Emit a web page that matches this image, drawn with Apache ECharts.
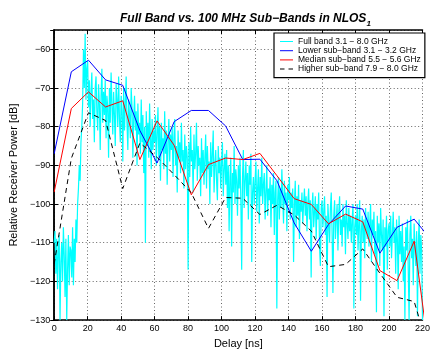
<!DOCTYPE html>
<html><head><meta charset="utf-8">
<script src="https://cdn.jsdelivr.net/npm/echarts@6/dist/echarts.min.js"></script>
<style>html,body{margin:0;padding:0;background:#fff}#c{width:433px;height:354px}</style>
</head><body><div id="c"></div><script>
// ---- data ----
const fullStep = 0.5; // ns between full-band samples
const fullBand = [
-110,-107,-118,-109,-122,-112,-108,-130,-115,-110,-120,-106,-113,-124,-109,-130,-117,-108,-121,-111,
-112,-119,-106,-121,-109,-115,-104,-110,-100,-96,-90,-94,-84,-80,-74,-60,-70,-56,-73,-65,
-63,-75,-68,-80,-71,-66,-78,-73,-84,-70,-67,-76,-81,-69,-74,-86,-72,-65,-79,-71,
-77,-68,-83,-72,-75,-88,-70,-79,-66,-74,-82,-71,-77,-85,-69,-73,-80,-67,-78,-84,
-72,-76,-89,-70,-81,-74,-67,-79,-86,-73,-77,-83,-70,-75,-88,-78,-72,-81,-76,-90,
-74,-82,-79,-87,-73,-84,-77,-92,-80,-110,-76,-85,-79,-88,-74,-83,-91,-78,-86,-81,
-84,-77,-90,-82,-75,-88,-80,-94,-79,-86,-83,-91,-76,-87,-81,-95,-84,-78,-89,-82,
-86,-80,-93,-83,-78,-90,-85,-97,-81,-88,-84,-92,-79,-89,-86,-96,-82,-91,-85,-88,
-117,-84,-93,-80,-89,-86,-97,-82,-91,-87,-79,-94,-85,-90,-88,-98,-83,-92,-86,-95,
-88,-82,-96,-85,-91,-89,-100,-84,-93,-87,-81,-97,-90,-86,-94,-99,-85,-92,-88,-96,
-89,-84,-98,-91,-87,-95,-86,-101,-90,-107,-93,-88,-111,-92,-97,-85,-100,-91,-94,-103,
-90,-96,-88,-99,-117,-93,-86,-101,-94,-89,-98,-92,-104,-90,-95,-87,-115,-97,-93,-100,
-94,-89,-102,-96,-91,-105,-93,-98,-88,-100,-95,-92,-104,-97,-90,-103,-96,-99,-93,-106,
-95,-100,-92,-108,-97,-94,-127,-99,-93,-104,-96,-101,-91,-98,-105,-94,-100,-97,-107,-95,
-99,-93,-104,-97,-101,-96,-115,-100,-94,-106,-98,-103,-95,-109,-99,-102,-97,-105,-100,-96,
-103,-98,-107,-100,-96,-104,-99,-119,-101,-97,-106,-102,-98,-109,-100,-104,-97,-111,-116,-101,
-99,-106,-102,-98,-108,-103,-124,-100,-105,-110,-101,-97,-107,-123,-103,-99,-109,-104,-100,-112,
-102,-98,-108,-104,-111,-100,-106,-103,-113,-99,-105,-109,-101,-107,-103,-110,-104,-100,-127,-106,
-103,-108,-100,-112,-105,-99,-125,-107,-103,-110,-104,-114,-101,-106,-109,-102,-111,-105,-100,-115,
-104,-108,-102,-113,-107,-128,-103,-110,-105,-116,-101,-108,-112,-104,-129,-106,-111,-103,-117,-107,
-105,-111,-103,-114,-108,-102,-110,-106,-118,-104,-109,-122,-103,-113,-107,-115,-105,-120,-111,-130,
-106,-112,-104,-117,-130,-108,-103,-114,-109,-121,-105,-111,-116,-107,-129,-110,-104,-118,-108,-112,-130
];
const subDelays = [0,10.24,20.48,30.72,40.96,51.2,61.44,71.68,81.92,92.16,102.4,112.64,122.88,133.12,143.36,153.6,163.84,174.08,184.32,194.56,204.8,215.04,225.28];
const lowerSub  = [-87,-65.8,-62.8,-67.9,-69.3,-81,-89.4,-78.7,-75.8,-75.8,-79.8,-88.5,-88.4,-94.0,-104.9,-112.2,-105.3,-100.5,-101.3,-112.7,-106.0,-103.9,-109.3];
const medianSub = [-96.9,-75.3,-71.0,-74.9,-73.3,-88.5,-78.5,-84.8,-97.6,-89.8,-88.1,-88.5,-86.9,-92.7,-98.6,-100.1,-105.1,-102.6,-104.6,-117.2,-119.8,-109.6,-143];
const higherSub = [-115.5,-88.2,-76.4,-78.4,-96,-84.2,-87.9,-92.4,-97.1,-106.3,-98.3,-98.5,-102.7,-100.3,-102.8,-107,-116.2,-115.6,-111.6,-117.9,-124.1,-125.2,-140];
const seriesNames = ['Full band 3.1 \u2212 8.0 GHz','Lower sub\u2212band 3.1 \u2212 3.2 GHz','Median sub\u2212band 5.5 \u2212 5.6 GHz','Higher sub\u2212band 7.9 \u2212 8.0 GHz'];
const xMin = 0, xMax = 220, xStep = 20;
const yMin = -130, yMax = -55, yStep = 10;

// ---- chart ----
const FONT = '"Liberation Sans", Arial, Helvetica, sans-serif';
const chart = echarts.init(document.getElementById('c'), null, {renderer:'canvas'});
const minus = v => String(v).replace('-', '\u2212');
const boxLine = {lineStyle:{color:'#000', width:1.5}};
const tick = {inside:true, length:4, lineStyle:{color:'#000', width:1}};
const grid = {show:true, lineStyle:{color:'#666', type:[1,2.5], width:1}};
const pair = (xs, ys) => ys.map((v,i)=>[xs[i], v]);
// legend icons: thin horizontal line (solid / dashed); invisible moves keep the 13x8 box
const solidIcon  = 'path://M0,0 M0,3.5 L13,3.5 L13,4.5 L0,4.5 Z M13,8';
const dashedIcon = 'path://M0,0 M0,3.5 L4.5,3.5 L4.5,4.5 L0,4.5 Z M8.5,3.5 L13,3.5 L13,4.5 L8.5,4.5 Z M13,8';

chart.setOption({
  animation:false,
  backgroundColor:'#fff',
  textStyle:{fontFamily:FONT},
  title:{
    text:'Full Band vs. 100 MHz Sub\u2212Bands in NLOS{s|1}',
    left:115, top:5,
    textStyle:{fontFamily:FONT, fontSize:12, fontWeight:'bold', fontStyle:'italic', color:'#000',
      rich:{s:{fontFamily:FONT, fontSize:8, fontWeight:'bold', fontStyle:'italic', color:'#000', padding:[10,0,0,0]}}}
  },
  grid:{left:51, right:4, top:30, bottom:25.7, containLabel:false},
  legend:{
    orient:'vertical', left:274, top:33,
    data:[
      {name:seriesNames[0], icon:solidIcon},
      {name:seriesNames[1], icon:solidIcon},
      {name:seriesNames[2], icon:solidIcon},
      {name:seriesNames[3], icon:dashedIcon}
    ],
    backgroundColor:'#fff', borderColor:'#000', borderWidth:1.2,
    padding:[4,4,4,6], itemGap:0.2, itemWidth:13, itemHeight:8,
    textStyle:{fontFamily:FONT, fontSize:8.5, color:'#000', lineHeight:8}
  },
  xAxis:[
    {type:'value', min:xMin, max:xMax, interval:xStep, position:'bottom',
     name:'Delay [ns]', nameLocation:'middle', nameGap:15,
     nameTextStyle:{fontFamily:FONT, fontSize:11, color:'#000'},
     axisLine:boxLine, axisTick:tick, splitLine:grid,
     axisLabel:{color:'#000', fontSize:9, margin:4, fontFamily:FONT}},
    {type:'value', min:xMin, max:xMax, interval:xStep, position:'top',
     axisLine:boxLine, axisTick:tick, splitLine:{show:false}, axisLabel:{show:false}}
  ],
  yAxis:[
    {type:'value', min:yMin, max:yMax, interval:yStep, position:'left',
     name:'Relative Receiver Power [dB]', nameLocation:'middle', nameGap:26,
     nameTextStyle:{fontFamily:FONT, fontSize:11, color:'#000'},
     axisLine:boxLine, axisTick:tick, splitLine:grid,
     axisLabel:{color:'#000', fontSize:9, margin:4, fontFamily:FONT, showMaxLabel:false, formatter:minus}},
    {type:'value', min:yMin, max:yMax, interval:yStep, position:'right',
     axisLine:boxLine, axisTick:tick, splitLine:{show:false}, axisLabel:{show:false}}
  ],
  series:[
    {name:seriesNames[0], type:'line', symbol:'none', data:fullBand.map((v,i)=>[i*fullStep, v]),
     lineStyle:{color:'#00ffff', width:1.2}, itemStyle:{color:'#00ffff'}, clip:true},
    {name:seriesNames[1], type:'line', symbol:'none', data:pair(subDelays, lowerSub),
     lineStyle:{color:'#0000ff', width:1}, itemStyle:{color:'#0000ff'}, clip:true},
    {name:seriesNames[2], type:'line', symbol:'none', data:pair(subDelays, medianSub),
     lineStyle:{color:'#ff0000', width:1}, itemStyle:{color:'#ff0000'}, clip:true},
    {name:seriesNames[3], type:'line', symbol:'none', data:pair(subDelays, higherSub),
     lineStyle:{color:'#000', width:1, type:[5,4]}, itemStyle:{color:'#000'}, clip:true}
  ]
});
</script></body></html>
